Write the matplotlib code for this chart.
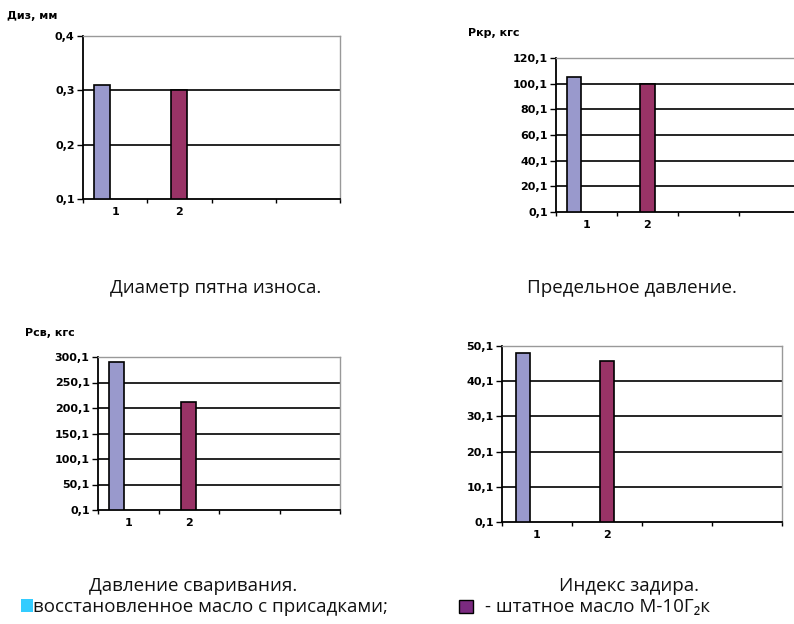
import matplotlib
matplotlib.use('Agg')
import matplotlib.pyplot as plt
from matplotlib.patches import Rectangle
from matplotlib.ticker import FixedLocator, FuncFormatter

W, H = 794, 624

# samples: 1 - restored oil with additives, 2 - standard oil M-10G2k
samples = ['1', '2']
wear_diam = [0.31, 0.30]        # mm
crit_load = [105.3, 100.0]      # kgf
weld_load = [290.0, 211.0]      # kgf
seize_index = [48.1, 45.8]

bar_colors = ['#9999cc', '#993366']
TICK_FONT = 'DejaVu Sans'
TEXT_FONT = ['Open Sans', 'DejaVu Sans']
TEXT_SIZE = 13.5


def px_axes(fig, left, top, right, bottom):
    return fig.add_axes([left / W, 1 - bottom / H, (right - left) / W, (bottom - top) / H])


def panel(ax, values, ymin, ymax, step, width):
    n_cat = 4
    offsets = [-0.2, 0.0]
    for i, v in enumerate(values):
        ax.bar(i + 0.5 + offsets[i], v - ymin, bottom=ymin, width=width,
               color=bar_colors[i], edgecolor='black', linewidth=1.2, zorder=3)
    ax.set_xlim(0, n_cat)
    ax.set_ylim(ymin, ymax)
    yt = [ymin + k * step for k in range(int(round((ymax - ymin) / step)) + 1)]
    ax.yaxis.set_major_locator(FixedLocator(yt))
    ax.yaxis.set_major_formatter(FuncFormatter(lambda v, p: f'{v:.1f}'.replace('.', ',')))
    for y in yt[1:-1]:
        ax.axhline(y, color='black', linewidth=1.2, zorder=1)
    ax.xaxis.set_major_locator(FixedLocator([k + 0.5 for k in range(len(samples))]))
    ax.set_xticklabels(samples)
    ax.xaxis.set_minor_locator(FixedLocator(range(n_cat + 1)))
    ax.tick_params(axis='x', which='major', length=0, pad=6)
    ax.tick_params(axis='x', which='minor', length=3, width=1, direction='out')
    ax.tick_params(axis='y', length=4, width=1, direction='out', pad=2)
    for lab in ax.get_xticklabels() + ax.get_yticklabels():
        lab.set_fontfamily(TICK_FONT)
        lab.set_fontweight('bold')
        lab.set_fontsize(8)
    ax.spines['left'].set_linewidth(1.3)
    ax.spines['bottom'].set_linewidth(1.3)
    ax.spines['top'].set_color('#999999')
    ax.spines['right'].set_color('#999999')
    ax.spines['top'].set_linewidth(1.0)
    ax.spines['right'].set_linewidth(1.0)
    ax.set_facecolor('white')


fig = plt.figure(figsize=(W / 100, H / 100), dpi=100)

ax1 = px_axes(fig, 83, 36, 340, 199)
panel(ax1, wear_diam, 0.1, 0.4, 0.1, 0.25)

ax2 = px_axes(fig, 556, 58, 800, 212)
panel(ax2, crit_load, 0.1, 120.1, 20.0, 0.23)

ax3 = px_axes(fig, 98, 357, 340, 510)
panel(ax3, weld_load, 0.1, 300.1, 50.0, 0.25)

ax4 = px_axes(fig, 502, 346, 782, 522)
panel(ax4, seize_index, 0.1, 50.1, 10.0, 0.2)

# axis titles
for x, y, s in [(7, 16, 'Диз, мм'), (468, 33, 'Ркр, кгс'), (25, 333, 'Рсв, кгс')]:
    fig.text(x / W, 1 - y / H, s, fontfamily=TICK_FONT, fontweight='bold',
             fontsize=8, va='center', ha='left')

# captions under the panels
for x, y, s in [(216, 293, 'Диаметр пятна износа.'),
                (632, 293, 'Предельное давление.'),
                (193, 591, 'Давление сваривания.'),
                (629, 591, 'Индекс задира.')]:
    fig.text(x / W, 1 - y / H, s, fontfamily=TEXT_FONT, fontsize=TEXT_SIZE,
             va='baseline', ha='center', color='#111111')

# legend
fig.patches.append(Rectangle((21 / W, 1 - 612 / H), 12 / W, 13 / H,
                             transform=fig.transFigure, facecolor='#33ccff',
                             edgecolor='none'))
fig.text(33 / W, 1 - 612 / H, 'восстановленное масло с присадками;',
         fontfamily=TEXT_FONT, fontsize=TEXT_SIZE, va='baseline', ha='left',
         color='#111111')
fig.patches.append(Rectangle((459 / W, 1 - 613 / H), 14 / W, 13 / H,
                             transform=fig.transFigure, facecolor='#7b2a80',
                             edgecolor='black', linewidth=1.0))
fig.text(485 / W, 1 - 612 / H, '- штатное масло М-10Г₂к',
         fontfamily=TEXT_FONT, fontsize=TEXT_SIZE, va='baseline', ha='left',
         color='#111111')

fig.savefig('out.png', dpi=100)
